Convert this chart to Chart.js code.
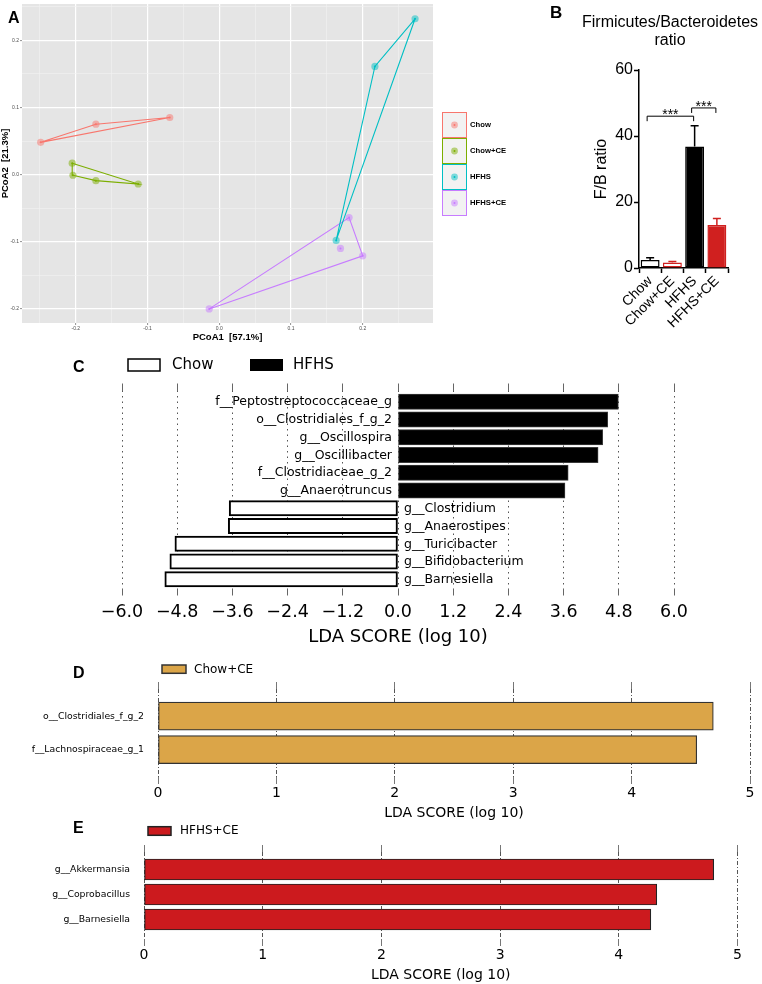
<!DOCTYPE html>
<html>
<head>
<meta charset="utf-8">
<script src="https://cdn.jsdelivr.net/npm/chart.js@4.4.1/dist/chart.umd.min.js"></script>
<style>
  body { margin: 0; background: #fff; width: 762px; height: 984px; position: relative; overflow: hidden; }
  canvas { position: absolute; }
</style>
</head>
<body>
<canvas id="pcoa" width="520" height="345" style="left:0;top:0"></canvas>
<canvas id="fbRatio" width="222" height="330" style="left:540px;top:0"></canvas>
<canvas id="ldaC" width="762" height="305" style="left:0;top:345px"></canvas>
<canvas id="ldaD" width="762" height="175" style="left:0;top:650px"></canvas>
<canvas id="ldaE" width="762" height="164" style="left:0;top:820px"></canvas>
<script>
// ---- A: PCoA (axis 1 / axis 2 coordinates per group)
const pcoaGroups = ['Chow', 'Chow+CE', 'HFHS', 'HFHS+CE'];
const chowPC1 = [-0.249, -0.172, -0.069];
const chowPC2 = [0.048, 0.075, 0.085];
const chowCePC1 = [-0.205, -0.204, -0.172, -0.113];
const chowCePC2 = [0.017, -0.001, -0.009, -0.014];
const hfhsPC1 = [0.273, 0.217, 0.163];
const hfhsPC2 = [0.232, 0.161, -0.098];
const hfhsCePC1 = [0.181, 0.169, 0.200, -0.014];
const hfhsCePC2 = [-0.064, -0.110, -0.121, -0.200];
// order of points around each hull
const chowHull = [0, 1, 2, 0];
const chowCeHull = [0, 3, 2, 1, 0];
const hfhsHull = [0, 1, 2, 0];
const hfhsCeHull = [3, 0, 2, 3];
const pcoaXTicks = [-0.2, -0.1, 0, 0.1, 0.2];
const pcoaYTicks = [-0.2, -0.1, 0, 0.1, 0.2];

// ---- B: Firmicutes/Bacteroidetes ratio
const fbGroups = ['Chow', 'Chow+CE', 'HFHS', 'HFHS+CE'];
const fbMean = [2.4, 1.7, 36.8, 13.0];
const fbSem = [0.7, 0.3, 6.3, 2.0];
const fbTicks = [0, 20, 40, 60];
const fbBracketFrom = [0, 2];
const fbBracketTo = [2, 3];
const fbBracketAt = [46, 48.5];
const fbBracketText = ['***', '***'];

// ---- C: LEfSe Chow vs HFHS
const cFeatures = ['f__Peptostreptococcaceae_g', 'o__Clostridiales_f_g_2', 'g__Oscillospira', 'g__Oscillibacter',
  'f__Clostridiaceae_g_2', 'g__Anaerotruncus', 'g__Clostridium', 'g__Anaerostipes', 'g__Turicibacter',
  'g__Bifidobacterium', 'g__Barnesiella'];
const cScores = [4.79, 4.56, 4.45, 4.35, 3.70, 3.63, -3.67, -3.69, -4.85, -4.96, -5.07];
const cGroup = ['HFHS', 'HFHS', 'HFHS', 'HFHS', 'HFHS', 'HFHS', 'Chow', 'Chow', 'Chow', 'Chow', 'Chow'];
const cTicks = [-6, -4.8, -3.6, -2.4, -1.2, 0, 1.2, 2.4, 3.6, 4.8, 6];

// ---- D: Chow+CE
const dFeatures = ['o__Clostridiales_f_g_2', 'f__Lachnospiraceae_g_1'];
const dScores = [4.69, 4.55];
// ---- E: HFHS+CE
const eFeatures = ['g__Akkermansia', 'g__Coprobacillus', 'g__Barnesiella'];
const eScores = [4.80, 4.32, 4.27];
const ldaTicks = [0, 1, 2, 3, 4, 5];

const lefseFont = "'DejaVu Sans', sans-serif";
const arialFont = "'Liberation Sans', Arial, sans-serif";

Chart.defaults.animation = false;
Chart.defaults.responsive = false;
Chart.defaults.devicePixelRatio = 1;
Chart.defaults.plugins.legend.display = false;
Chart.defaults.plugins.tooltip.enabled = false;
Chart.defaults.color = '#000';

function fade(hex, a) {
  const n = parseInt(hex.slice(1), 16);
  return 'rgba(' + (n >> 16) + ',' + ((n >> 8) & 255) + ',' + (n & 255) + ',' + a + ')';
}

// ================= A =================
const pcoaColors = ['#F8766D', '#7CAE00', '#00BFC4', '#C77CFF'];
const pcoaPC1 = [chowPC1, chowCePC1, hfhsPC1, hfhsCePC1];
const pcoaPC2 = [chowPC2, chowCePC2, hfhsPC2, hfhsCePC2];
const pcoaHull = [chowHull, chowCeHull, hfhsHull, hfhsCeHull];

const pcoaDatasets = [];
pcoaGroups.forEach(function(name, k) {
  const pts = pcoaPC1[k].map((x, i) => ({ x: x, y: pcoaPC2[k][i] }));
  pcoaDatasets.push({ label: name, data: pcoaHull[k].map(i => pts[i]), showLine: true,
    borderColor: pcoaColors[k], borderWidth: 1.1, pointRadius: 0, order: 3 });
  pcoaDatasets.push({ label: name, data: pts, pointRadius: 3.6,
    backgroundColor: fade(pcoaColors[k], 0.5), borderWidth: 0, order: 2 });
  pcoaDatasets.push({ label: name, data: pts, pointRadius: 1,
    backgroundColor: pcoaColors[k], borderWidth: 0, order: 1 });
});

function isMajor(v) { return Math.abs(v * 10 - Math.round(v * 10)) < 1e-6; }
// major ticks plus the minor lines half way between them
function withMinor(major, s) {
  const out = [];
  major.forEach(v => { out.push(v - 0.05); out.push(v); });
  out.push(major[major.length - 1] + 0.05);
  return out.filter(v => v >= s.min && v <= s.max).map(v => ({ value: v }));
}

const pcoaGrid = {
  color: c => isMajor(c.tick.value) ? '#FFFFFF' : '#F1F1F1',
  lineWidth: c => isMajor(c.tick.value) ? 1.2 : 0.6,
  tickLength: 2,
  tickWidth: 0.6,
  tickColor: c => isMajor(c.tick.value) ? '#444' : 'rgba(0,0,0,0)'
};

const pcoaDecor = {
  id: 'pcoaDecor',
  beforeDraw(chart) {
    const { ctx, chartArea: a } = chart;
    ctx.save();
    ctx.fillStyle = '#E5E5E5';
    ctx.fillRect(a.left, a.top, a.right - a.left, a.bottom - a.top);
    ctx.restore();
  },
  afterDraw(chart) {
    const ctx = chart.ctx;
    ctx.save();
    ctx.fillStyle = '#000';
    ctx.font = 'bold 16px ' + arialFont;
    ctx.textBaseline = 'alphabetic';
    ctx.fillText('A', 8, 22.5);
    // legend
    pcoaGroups.forEach(function(name, k) {
      const x = 442, y = 112 + k * 26;
      ctx.fillStyle = '#F2F2F2';
      ctx.fillRect(x, y, 25, 26);
      ctx.strokeStyle = pcoaColors[k];
      ctx.lineWidth = 1;
      ctx.strokeRect(x + 0.5, y + 0.5, 24, 25);
      ctx.fillStyle = fade(pcoaColors[k], 0.5);
      ctx.beginPath(); ctx.arc(x + 12.5, y + 13, 3.4, 0, Math.PI * 2); ctx.fill();
      ctx.fillStyle = pcoaColors[k];
      ctx.beginPath(); ctx.arc(x + 12.5, y + 13, 1, 0, Math.PI * 2); ctx.fill();
      ctx.fillStyle = '#000';
      ctx.font = 'bold 7.7px ' + arialFont;
      ctx.textBaseline = 'middle';
      ctx.fillText(name, 470, y + 13);
    });
    ctx.restore();
  }
};

new Chart(document.getElementById('pcoa'), {
  type: 'scatter',
  data: { datasets: pcoaDatasets },
  options: {
    layout: { padding: { top: 1, right: 87, left: 0, bottom: 0 } },
    scales: {
      x: {
        type: 'linear', min: -0.275, max: 0.298,
        afterBuildTicks: s => { s.ticks = withMinor(pcoaXTicks, s); },
        afterFit: s => { s.height = 22; },
        grid: pcoaGrid,
        border: { display: false },
        ticks: { autoSkip: false, maxRotation: 0, padding: 1, color: '#4D4D4D',
          font: { size: 5, family: arialFont },
          callback: v => isMajor(v) ? v.toFixed(1) : '' },
        title: { display: true, text: 'PCoA1  [57.1%]', color: '#000',
          font: { size: 9.5, weight: 'bold', family: arialFont }, padding: { top: 0, bottom: 2.3 } }
      },
      y: {
        type: 'linear', min: -0.221, max: 0.254,
        afterBuildTicks: s => { s.ticks = withMinor(pcoaYTicks, s); },
        afterFit: s => { s.width = 22; },
        grid: pcoaGrid,
        border: { display: false },
        ticks: { autoSkip: false, padding: 1, color: '#4D4D4D',
          font: { size: 5, family: arialFont },
          callback: v => isMajor(v) ? v.toFixed(1) : '' },
        title: { display: true, text: 'PCoA2  [21.3%]', color: '#000',
          font: { size: 9.5, weight: 'bold', family: arialFont }, padding: { top: 0, bottom: 0 } }
      }
    }
  },
  plugins: [pcoaDecor]
});

// ================= B =================
const fbFill = ['#FFFFFF', '#FFFFFF', '#000000', '#D0201F'];
const fbEdge = ['#000000', '#D0201F', '#000000', '#D0201F'];

const fbDecor = {
  id: 'fbDecor',
  afterDatasetsDraw(chart) {
    const { ctx, scales: { x, y } } = chart;
    const bars = chart.getDatasetMeta(0).data;
    ctx.save();
    ctx.lineWidth = 1.5;
    bars.forEach(function(bar, i) {
      const top = y.getPixelForValue(fbMean[i] + fbSem[i]);
      ctx.strokeStyle = fbEdge[i];
      ctx.beginPath();
      ctx.moveTo(bar.x, bar.y); ctx.lineTo(bar.x, top);
      ctx.moveTo(bar.x - 4, top); ctx.lineTo(bar.x + 4, top);
      ctx.stroke();
    });
    // significance brackets
    ctx.strokeStyle = '#000';
    ctx.lineWidth = 1;
    ctx.fillStyle = '#000';
    ctx.font = '14px ' + arialFont;
    ctx.textAlign = 'center';
    ctx.textBaseline = 'alphabetic';
    fbBracketAt.forEach(function(v, k) {
      const x1 = x.getPixelForValue(fbBracketFrom[k]) - 3;
      const x2 = x.getPixelForValue(fbBracketTo[k]) - 1;
      const yy = y.getPixelForValue(v);
      ctx.beginPath();
      ctx.moveTo(x1, yy + 5); ctx.lineTo(x1, yy); ctx.lineTo(x2, yy); ctx.lineTo(x2, yy + 5);
      ctx.stroke();
      ctx.fillText(fbBracketText[k], (x1 + x2) / 2, yy + 3);
    });
    ctx.restore();
  },
  afterDraw(chart) {
    const ctx = chart.ctx;
    ctx.save();
    ctx.fillStyle = '#000';
    ctx.font = 'bold 17px ' + arialFont;
    ctx.fillText('B', 10, 18);
    ctx.font = '16px ' + arialFont;
    ctx.textAlign = 'center';
    ctx.fillText('Firmicutes/Bacteroidetes', 130, 27);
    ctx.fillText('ratio', 130, 45);
    ctx.restore();
  }
};

new Chart(document.getElementById('fbRatio'), {
  type: 'bar',
  data: {
    labels: fbGroups,
    datasets: [{ data: fbMean, backgroundColor: fbFill, borderColor: fbEdge, borderWidth: 1.5,
      borderSkipped: false, barPercentage: 0.85, categoryPercentage: 1 }]
  },
  options: {
    layout: { padding: { top: 70, right: 34, left: 0, bottom: 0 } },
    scales: {
      x: {
        afterFit: s => { s.height = 62; },
        grid: { drawOnChartArea: false, tickLength: 5, tickColor: '#000', tickWidth: 1.5 },
        border: { color: '#000', width: 1.5 },
        ticks: { autoSkip: false, minRotation: 45, maxRotation: 45, padding: 0, color: '#000',
          font: { size: 14, family: arialFont } }
      },
      y: {
        min: 0, max: 60,
        afterBuildTicks: s => { s.ticks = fbTicks.map(v => ({ value: v })); },
        afterFit: s => { s.width = 99; },
        grid: { drawOnChartArea: false, tickLength: 5, tickColor: '#000', tickWidth: 1.5 },
        border: { color: '#000', width: 1.5 },
        ticks: { padding: 1, color: '#000', font: { size: 16, family: arialFont } },
        title: { display: true, text: 'F/B ratio', color: '#000', font: { size: 16, family: arialFont },
          padding: { top: 52, bottom: 0 } }
      }
    }
  },
  plugins: [fbDecor]
});

// ================= LEfSe helpers =================
function ldaAxes(ticks, min, max, tickFont, titleFont, labelPad, titlePad, height, dash, tickColor) {
  return {
    x: {
      type: 'linear', position: 'bottom', min: min, max: max, z: 1,
      afterBuildTicks: s => { s.ticks = ticks.map(v => ({ value: v })); },
      afterFit: s => { s.height = height; },
      grid: { color: '#555', lineWidth: 1, tickBorderDash: [], tickLength: 7,
        tickColor: tickColor, tickWidth: 1 },
      border: { display: false, dash: dash },
      ticks: { autoSkip: false, maxRotation: 0, padding: labelPad, color: '#000',
        font: { size: tickFont, family: lefseFont },
        callback: v => (v < 0 ? '\u2212' : '') + (Number.isInteger(ticks[1]) ? String(Math.abs(v)) : Math.abs(v).toFixed(1)) },
      title: { display: true, text: 'LDA SCORE (log 10)', color: '#000',
        font: { size: titleFont, family: lefseFont }, padding: { top: 0, bottom: titlePad } }
    },
    xTop: {
      type: 'linear', position: 'top', min: min, max: max, z: 1,
      afterBuildTicks: s => { s.ticks = ticks.map(v => ({ value: v })); },
      afterFit: s => { s.height = 7; },
      grid: { drawOnChartArea: false, tickLength: 7, tickColor: tickColor, tickWidth: 1 },
      border: { display: false },
      ticks: { display: false }
    }
  };
}

function legendKey(ctx, letter, lx, ly, box, fill, stroke, text, tx, ty, size) {
  ctx.save();
  ctx.fillStyle = '#000';
  ctx.font = 'bold 16px ' + arialFont;
  ctx.textBaseline = 'alphabetic';
  ctx.fillText(letter, lx, ly);
  ctx.fillStyle = fill;
  ctx.fillRect(box[0], box[1], box[2], box[3]);
  ctx.strokeStyle = stroke;
  ctx.lineWidth = 1.5;
  ctx.strokeRect(box[0], box[1], box[2], box[3]);
  ctx.fillStyle = '#000';
  ctx.font = size + 'px ' + lefseFont;
  ctx.textBaseline = 'middle';
  ctx.fillText(text, tx, ty);
  ctx.restore();
}

// ================= C =================
const cDecor = {
  id: 'cDecor',
  afterDatasetsDraw(chart) {
    const { ctx, scales: { x, y } } = chart;
    const x0 = x.getPixelForValue(0);
    ctx.save();
    ctx.fillStyle = '#000';
    ctx.font = '12.5px ' + lefseFont;
    ctx.textBaseline = 'middle';
    cFeatures.forEach(function(f, i) {
      const yy = y.getPixelForValue(i) + 0.5;
      if (cScores[i] > 0) { ctx.textAlign = 'right'; ctx.fillText(f, x0 - 6, yy); }
      else { ctx.textAlign = 'left'; ctx.fillText(f, x0 + 6, yy); }
    });
    ctx.restore();
  },
  afterDraw(chart) {
    const ctx = chart.ctx;
    legendKey(ctx, 'C', 73, 26.5, [128, 14, 32, 12], '#FFFFFF', '#000', 'Chow', 172, 20, 15);
    ctx.save();
    ctx.fillStyle = '#000';
    ctx.fillRect(250, 14, 33, 12);
    ctx.font = '15px ' + lefseFont;
    ctx.textBaseline = 'middle';
    ctx.fillText('HFHS', 293, 20);
    ctx.restore();
  }
};

new Chart(document.getElementById('ldaC'), {
  type: 'bar',
  data: {
    datasets: [{
      data: cFeatures.map((f, i) => ({ x: cScores[i], y: i })),
      backgroundColor: c => cGroup[c.dataIndex] === 'HFHS' ? '#000000' : '#FFFFFF',
      borderColor: c => cGroup[c.dataIndex] === 'HFHS' ? '#3a3a3a' : '#000000',
      borderWidth: c => cGroup[c.dataIndex] === 'HFHS' ? 1 : 2,
      borderSkipped: false,
      barThickness: 15.3
    }]
  },
  options: {
    indexAxis: 'y',
    layout: { padding: { top: 38.5, right: 88, left: 122, bottom: 0 } },
    scales: Object.assign(ldaAxes(cTicks, -6, 6, 17.5, 18, 6, 2.2, 61.5, [1.5, 4], '#666'), {
      y: { type: 'linear', min: -0.63, max: 10.52, reverse: true, offset: false, display: false }
    })
  },
  plugins: [cDecor]
});

// ================= D =================
function ldaIndexAxis(features, min, max, width) {
  return {
    type: 'linear', min: min, max: max, reverse: true, offset: false,
    afterBuildTicks: s => { s.ticks = features.map((f, i) => ({ value: i })); },
    afterFit: s => { s.width = width; },
    grid: { display: false, drawTicks: false, offset: false },
    border: { display: false },
    ticks: { autoSkip: false, padding: 14, color: '#000', font: { size: 9.3, family: lefseFont },
      callback: v => features[v] }
  };
}

new Chart(document.getElementById('ldaD'), {
  type: 'bar',
  data: {
    datasets: [{
      data: dFeatures.map((f, i) => ({ x: dScores[i], y: i })),
      backgroundColor: '#DBA548', borderColor: '#333333', borderWidth: 1.2,
      borderSkipped: false, barThickness: 28
    }]
  },
  options: {
    indexAxis: 'y',
    layout: { padding: { top: 32, right: 12, left: 0, bottom: 0 } },
    scales: Object.assign(ldaAxes(ldaTicks, 0, 5, 14, 14, 1, 3.6, 48, [4, 2, 1, 2], '#777'), {
      y: ldaIndexAxis(dFeatures, -0.81, 1.82, 158)
    })
  },
  plugins: [{
    id: 'dDecor',
    afterDraw(chart) {
      legendKey(chart.ctx, 'D', 73, 28.3, [162, 15, 24, 8.3], '#DBA548', '#333', 'Chow+CE', 194, 19.5, 12);
    }
  }]
});

// ================= E =================
new Chart(document.getElementById('ldaE'), {
  type: 'bar',
  data: {
    datasets: [{
      data: eFeatures.map((f, i) => ({ x: eScores[i], y: i })),
      backgroundColor: '#CC1A1E', borderColor: '#222222', borderWidth: 1.2,
      borderSkipped: false, barThickness: 21
    }]
  },
  options: {
    indexAxis: 'y',
    layout: { padding: { top: 25, right: 24.5, left: 0, bottom: 0 } },
    scales: Object.assign(ldaAxes(ldaTicks, 0, 5, 14, 14, 1, 0.6, 45, [4, 2, 1, 2], '#777'), {
      y: ldaIndexAxis(eFeatures, -0.7, 2.78, 144)
    })
  },
  plugins: [{
    id: 'eDecor',
    afterDraw(chart) {
      legendKey(chart.ctx, 'E', 73, 13.3, [148, 6.7, 23, 8.6], '#CC1A1E', '#222', 'HFHS+CE', 180, 11, 12);
    }
  }]
});
</script>
</body>
</html>
